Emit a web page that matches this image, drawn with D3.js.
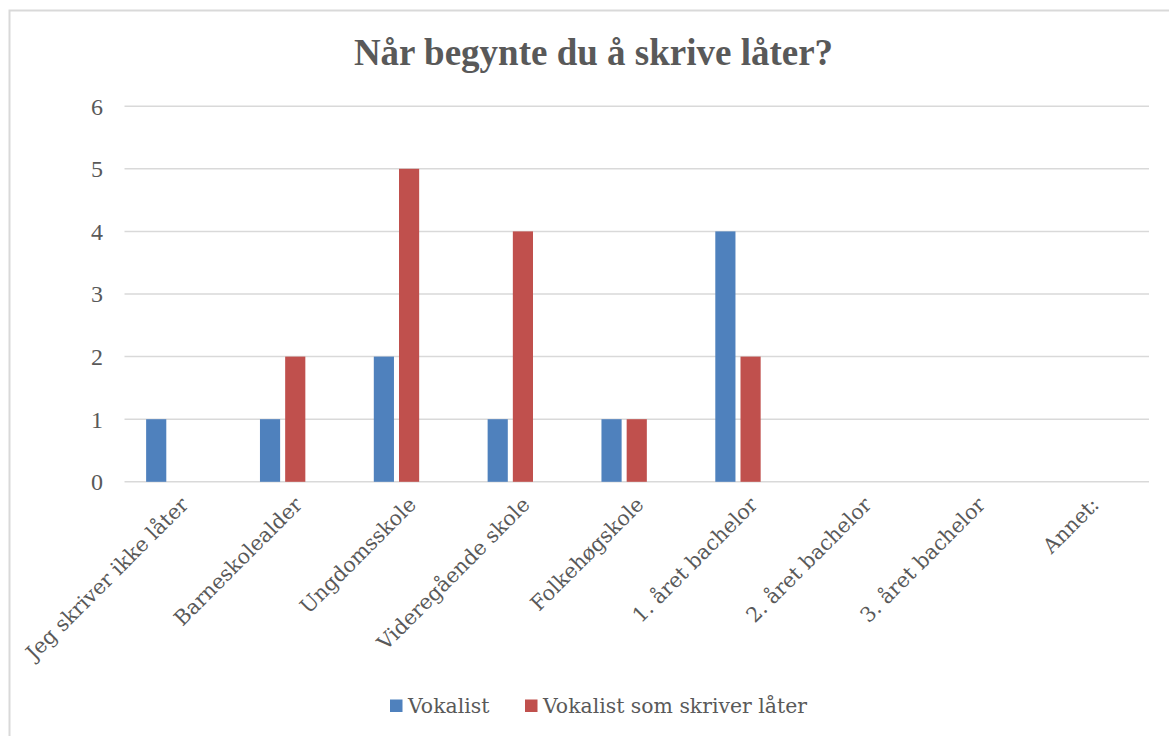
<!DOCTYPE html>
<html><head><meta charset="utf-8">
<script src="https://cdn.jsdelivr.net/npm/d3@7"></script>
<style>html,body{margin:0;padding:0;background:#fff;}svg{display:block;}</style>
</head><body>
<svg id="chart" width="1169" height="736"></svg>
<script>
const title = "Når begynte du å skrive låter?";
const categories = ["Jeg skriver ikke låter","Barneskolealder","Ungdomsskole","Videregående skole","Folkehøgskole","1. året bachelor","2. året bachelor","3. året bachelor","Annet:"];
const seriesNames = ["Vokalist","Vokalist som skriver låter"];
const vokalist = [1,1,2,1,1,4,0,0,0];
const vokalistSkriver = [0,2,5,4,1,2,0,0,0];
const yTicks = [0,1,2,3,4,5,6];
const colors = ["#4f81bd","#c0504d"];

const svg = d3.select("#chart");
const W = 1169, H = 736;
svg.append("rect").attr("x",9.5).attr("y",10.5).attr("width",W+20).attr("height",H+20)
  .attr("fill","#fff").attr("stroke","#d9d9d9").attr("stroke-width",2);

const m = {left:124.5, right:1149, top:106.2, bottom:481.8};
const x0 = d3.scaleBand().domain(categories).range([m.left,m.right]);
const x1 = d3.scaleBand().domain([...seriesNames, "_"]).range([x0.bandwidth()*0.19, x0.bandwidth()*0.81]).paddingInner(0.2);
const y = d3.scaleLinear().domain([0,6]).range([m.bottom,m.top]);

const serif = "'Liberation Serif','Times New Roman',serif";
const labelFont = "'DejaVu Serif',serif";
const textCol = "#595959";

// gridlines
svg.append("g").selectAll("line").data(yTicks).join("line")
  .attr("x1",m.left).attr("x2",m.right)
  .attr("y1",d=>y(d)).attr("y2",d=>y(d))
  .attr("stroke","#d9d9d9").attr("stroke-width",1.5);

// y labels
svg.append("g").selectAll("text").data(yTicks).join("text")
  .attr("x",103).attr("y",d=>y(d)).attr("dy","0.35em")
  .attr("text-anchor","end").attr("font-family",serif).attr("font-size",24)
  .attr("fill",textCol).text(d=>d);

// bars
const seriesData = [vokalist, vokalistSkriver];
seriesData.forEach((vals,si)=>{
  svg.append("g").selectAll("rect").data(vals.map((v,i)=>({c:categories[i],v})).filter(d=>d.v>0)).join("rect")
    .attr("x",d=>x0(d.c)+x1(seriesNames[si]))
    .attr("width",x1.bandwidth())
    .attr("y",d=>y(d.v)).attr("height",d=>y(0)-y(d.v))
    .attr("fill",colors[si]);
});

// x labels
svg.append("g").selectAll("text").data(categories).join("text")
  .attr("transform",d=>`translate(${x0(d)+x0.bandwidth()/2-2},${m.bottom+14}) rotate(-45)`)
  .attr("text-anchor","end").attr("dy","0.7em")
  .attr("font-family",labelFont).attr("font-size",20.6).attr("fill",textCol).text(d=>d);

// title
svg.append("text").attr("x",593.5).attr("y",65)
  .attr("text-anchor","middle").attr("font-family",serif).attr("font-weight","bold")
  .attr("font-size",37).attr("fill",textCol).text(title);

// legend
const leg = svg.append("g");
const legX = [390, 525];
seriesNames.forEach((n,i)=>{
  leg.append("rect").attr("x",legX[i]).attr("y",699.5).attr("width",12.5).attr("height",12.5).attr("fill",colors[i]);
  leg.append("text").attr("x",legX[i]+18).attr("y",706).attr("dy","0.35em")
    .attr("font-family",labelFont).attr("font-size",20.4).attr("fill",textCol).text(n);
});
</script>
</body></html>
